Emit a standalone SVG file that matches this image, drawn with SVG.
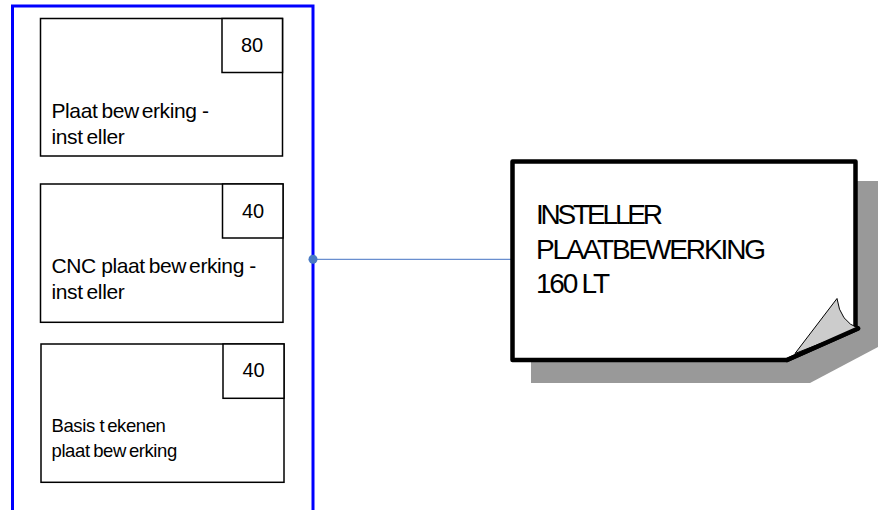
<svg xmlns="http://www.w3.org/2000/svg" width="879" height="510" viewBox="0 0 879 510">
<style>
.box{fill:#fff;stroke:#000;stroke-width:1.5}
.lbl{font-family:"Liberation Sans",Arial,sans-serif;fill:#000;letter-spacing:-0.4px}
.num{font-family:"Liberation Sans",Arial,sans-serif;font-size:20px;fill:#000;text-anchor:middle}
.note{font-family:"Liberation Sans",Arial,sans-serif;font-size:28px;fill:#000}
</style>
<rect width="879" height="510" fill="#fff"/>
<g id="container">
<rect x="12.5" y="6" width="300.5" height="520" fill="none" stroke="#0000ff" stroke-width="3"/>
</g>
<g id="node-plaatbewerking-insteller">
<rect class="box" x="40.5" y="18.5" width="242" height="137.5"/>
<rect class="box" x="222" y="18.5" width="60.5" height="54"/>
<text class="num" x="252" y="52">80</text>
<text class="lbl" font-size="21" x="51.5" y="118.3">Plaat<tspan dx="4">bew</tspan><tspan dx="3">erking -</tspan></text>
<text class="lbl" font-size="21" x="51.5" y="144">inst<tspan dx="4">eller</tspan></text>
</g>
<g id="node-cnc-plaatbewerking-insteller">
<rect class="box" x="40.5" y="184" width="242.5" height="138.3"/>
<rect class="box" x="222.5" y="184" width="60.5" height="54"/>
<text class="num" x="253" y="217.7">40</text>
<text class="lbl" font-size="21" x="51.5" y="273.3">CNC plaat<tspan dx="4">bew</tspan><tspan dx="3">erking -</tspan></text>
<text class="lbl" font-size="21" x="51.5" y="299.3">inst<tspan dx="4">eller</tspan></text>
</g>
<g id="node-basis-tekenen">
<rect class="box" x="41" y="344" width="243" height="138.3"/>
<rect class="box" x="223" y="344" width="61" height="54.3"/>
<text class="num" x="253.5" y="377">40</text>
<text class="lbl" font-size="18.5" x="51.5" y="432.3">Basis t<tspan dx="3">ekenen</tspan></text>
<text class="lbl" font-size="18.5" x="51.5" y="456.7">plaat<tspan dx="3.5">bew</tspan><tspan dx="3">erking</tspan></text>
</g>
<g id="connectors">
<line x1="313" y1="259.3" x2="511" y2="259.3" stroke="#4472c4" stroke-width="1"/>
<circle cx="313" cy="259.3" r="4.5" fill="#4a7bc4"/>
</g>
<g id="note-insteller">
<polygon points="531,181 878,181 878,347 810,383 531,383" fill="#999"/>
<path d="M512.5,161.5 L855.5,161.5 L855.5,327 L858,328.5 L787,360 L512.5,360 Z" fill="#fff" stroke="#000" stroke-width="4.5" stroke-linejoin="round"/>
<path d="M795,353.5 L837,298.5 Q840,322 859,328.5 Z" fill="#cccccc" stroke="#000" stroke-width="1"/>
<line x1="787" y1="360" x2="858" y2="328.5" stroke="#000" stroke-width="4.5" stroke-linecap="round"/>
<text class="note" x="536" y="224.3" textLength="127" lengthAdjust="spacing">INSTELLER</text>
<text class="note" x="536" y="259" textLength="230" lengthAdjust="spacing">PLAATBEWERKING</text>
<text class="note" x="536" y="293.3" textLength="74" lengthAdjust="spacing">160 LT</text>
</g>
</svg>
